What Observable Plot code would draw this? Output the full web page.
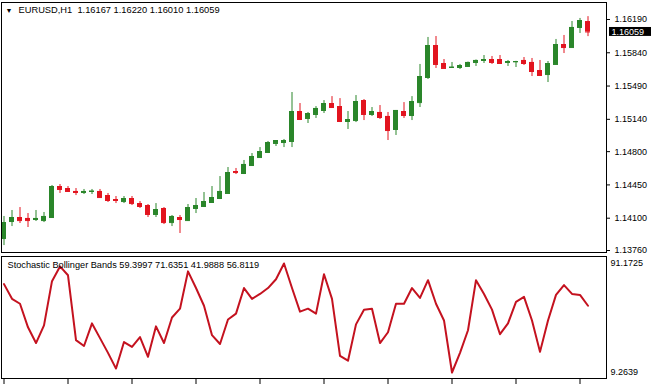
<!DOCTYPE html>
<html>
<head>
<meta charset="utf-8">
<script src="https://cdn.jsdelivr.net/npm/d3@7"></script>
<script src="https://cdn.jsdelivr.net/npm/@observablehq/plot@0.6"></script>
<style>
  html, body { margin: 0; padding: 0; background: #fff; }
  #wrap { position: relative; width: 651px; height: 384px; overflow: hidden; background: #fff; }
  #main, #sub { position: absolute; left: 0; }
  #main { top: 0; }
  #sub { top: 255px; }
</style>
</head>
<body>
<div id="wrap"><div id="main"></div><div id="sub"></div></div>
<script>
// ---------- data ----------
const symbolTitle = "EURUSD,H1";
const titleValues = ["1.16167", "1.16220", "1.16010", "1.16059"];
const indicatorName = "Stochastic Bollinger Bands";
const indicatorValues = ["59.3997", "71.6351", "41.9888", "56.8119"];

const candleOpen = [
  1.13886, 1.14065, 1.14107, 1.14097, 1.14086, 1.14075, 1.14107, 1.14433, 1.14412, 1.14381,
  1.14370, 1.14381, 1.14381, 1.14338, 1.14296, 1.14275, 1.14307, 1.14254, 1.14233, 1.14139,
  1.14202, 1.14054, 1.14107, 1.14075, 1.14202, 1.14223, 1.14265, 1.14307, 1.14360, 1.14591,
  1.14570, 1.14654, 1.14738, 1.14791, 1.14886, 1.14896, 1.14907, 1.15222, 1.15149, 1.15191,
  1.15233, 1.15306, 1.15274, 1.15117, 1.15127, 1.15337, 1.15191, 1.15212, 1.15170, 1.15033,
  1.15222, 1.15180, 1.15316, 1.15580, 1.15916, 1.15727, 1.15685, 1.15685, 1.15696, 1.15738,
  1.15759, 1.15769, 1.15769, 1.15738, 1.15745, 1.15759, 1.15738, 1.15653, 1.15611, 1.15717,
  1.15927, 1.15895, 1.16106, 1.16167
];
const candleHigh = [
  1.14118, 1.14181, 1.14212, 1.14149, 1.14181, 1.14160, 1.14444, 1.14454, 1.14433, 1.14412,
  1.14402, 1.14402, 1.14402, 1.14360, 1.14328, 1.14328, 1.14328, 1.14275, 1.14244, 1.14254,
  1.14212, 1.14128, 1.14128, 1.14244, 1.14307, 1.14370, 1.14433, 1.14538, 1.14633, 1.14623,
  1.14707, 1.14780, 1.14843, 1.14907, 1.14917, 1.14928, 1.15422, 1.15306, 1.15212, 1.15274,
  1.15337, 1.15379, 1.15358, 1.15222, 1.15390, 1.15348, 1.15264, 1.15285, 1.15212, 1.15233,
  1.15316, 1.15379, 1.15717, 1.16001, 1.16011, 1.15769, 1.15738, 1.15717, 1.15742, 1.15764,
  1.15811, 1.15801, 1.15811, 1.15759, 1.15750, 1.15790, 1.15780, 1.15759, 1.15748, 1.15980,
  1.16022, 1.16169, 1.16201, 1.16220
];
const candleLow = [
  1.13812, 1.14012, 1.14044, 1.14002, 1.14065, 1.14054, 1.14097, 1.14360, 1.14370, 1.14338,
  1.14349, 1.14349, 1.14307, 1.14265, 1.14254, 1.14254, 1.14233, 1.14202, 1.14107, 1.14107,
  1.14033, 1.14012, 1.13939, 1.14065, 1.14149, 1.14212, 1.14265, 1.14296, 1.14360, 1.14559,
  1.14559, 1.14644, 1.14738, 1.14780, 1.14854, 1.14843, 1.14843, 1.15127, 1.15096, 1.15149,
  1.15201, 1.15254, 1.15106, 1.15033, 1.15106, 1.15127, 1.15170, 1.15138, 1.14917, 1.14970,
  1.15149, 1.15127, 1.15264, 1.15559, 1.15675, 1.15675, 1.15680, 1.15664, 1.15690, 1.15696,
  1.15727, 1.15717, 1.15717, 1.15696, 1.15685, 1.15706, 1.15590, 1.15590, 1.15527, 1.15717,
  1.15832, 1.15895, 1.16043, 1.16010
];
const candleClose = [
  1.14054, 1.14107, 1.14075, 1.14075, 1.14097, 1.14118, 1.14433, 1.14402, 1.14381, 1.14370,
  1.14381, 1.14384, 1.14317, 1.14286, 1.14286, 1.14307, 1.14254, 1.14223, 1.14139, 1.14191,
  1.14054, 1.14118, 1.14086, 1.14212, 1.14233, 1.14275, 1.14317, 1.14381, 1.14580, 1.14580,
  1.14665, 1.14749, 1.14801, 1.14896, 1.14917, 1.14917, 1.15222, 1.15138, 1.15201, 1.15254,
  1.15306, 1.15264, 1.15117, 1.15138, 1.15327, 1.15191, 1.15222, 1.15159, 1.15022, 1.15233,
  1.15180, 1.15327, 1.15590, 1.15916, 1.15717, 1.15675, 1.15688, 1.15706, 1.15738, 1.15759,
  1.15769, 1.15738, 1.15727, 1.15748, 1.15748, 1.15727, 1.15643, 1.15601, 1.15727, 1.15927,
  1.15895, 1.16106, 1.16179, 1.16059
];
const stochValues = [
  75.67, 64.61, 60.92, 43.21, 31.40, 44.68, 77.89, 88.96, 82.32, 33.61,
  29.19, 46.16, 35.09, 24.02, 12.21, 32.14, 28.45, 35.83, 21.07, 43.94,
  31.40, 50.59, 57.23, 85.27, 72.72, 59.44, 37.30, 30.66, 49.11, 53.54,
  72.72, 64.61, 68.30, 72.72, 79.37, 91.1725, 72.72, 55.01, 57.23, 53.54,
  83.06, 64.61, 21.81, 18.12, 45.42, 56.49, 57.23, 31.40, 39.52, 60.92,
  60.92, 72.72, 65.35, 78.63, 60.92, 48.37, 9.2639, 24.02, 41.00, 78.63,
  68.30, 56.49, 38.04, 46.16, 62.39, 66.08, 48.37, 24.76, 48.37, 67.56,
  74.94, 68.30, 67.56, 59.40
];
const priceTicks = [1.16190, 1.15840, 1.15490, 1.15140, 1.14800, 1.14450, 1.14100, 1.13760];
const stochTicks = [91.1725, 9.2639];
const timeTickEvery = 8;

// ---------- build ----------
const candles = candleOpen.map((o, i) => ({
  i, open: o, high: candleHigh[i], low: candleLow[i], close: candleClose[i],
  up: candleClose[i] >= o
}));
const lastClose = candleClose[candleClose.length - 1];

const GREEN = "#2a862a";
const RED = "#e2141f";
const FONT = "Liberation Sans, Arial, sans-serif";
const colorOf = d => d.up ? GREEN : RED;
const xDomain = [-0.3125, 75.3125];
const halfBody = 0.3125;

const main = Plot.plot({
  width: 651, height: 254,
  marginLeft: 1, marginRight: 45, marginTop: 2, marginBottom: 2,
  style: { fontFamily: FONT, fontSize: "9px", color: "#000", background: "#fff" },
  x: { domain: xDomain, axis: null },
  y: { domain: [1.137391, 1.163688], axis: null },
  marks: [
    Plot.axisY({ anchor: "right", ticks: priceTicks, tickFormat: d => d.toFixed(5),
      tickSize: 3, tickPadding: 5, label: null, fontSize: 9 }),
    Plot.ruleX(candles, { x: "i", y1: "low", y2: "high", stroke: colorOf, strokeWidth: 1 }),
    Plot.rect(candles, { x1: d => d.i - halfBody, x2: d => d.i + halfBody,
      y1: d => Math.min(d.open, d.close), y2: d => Math.max(d.open, d.close), fill: colorOf }),
    Plot.ruleY(candles, { x1: d => d.i - halfBody, x2: d => d.i + halfBody, y: "open", stroke: colorOf }),
    Plot.ruleY(candles, { x1: d => d.i - halfBody, x2: d => d.i + halfBody, y: "close", stroke: colorOf }),
    Plot.frame({ stroke: "#000" }),
    Plot.rect([lastClose], { x1: xDomain[1], x2: xDomain[1] + 6, y1: d => d - 0.00047, y2: d => d + 0.00047,
      fill: "#000", insetLeft: 3 }),
    Plot.text([lastClose], { x: xDomain[1], y: d => d, text: d => d.toFixed(5), dx: 5,
      textAnchor: "start", fill: "#fff", fontSize: 9 }),
    Plot.text(["\u25BC"], { frameAnchor: "top-left", dx: 4, dy: 8, text: d => d, fontSize: 7,
      textAnchor: "start", lineAnchor: "middle", fill: "#000" }),
    Plot.text([symbolTitle + "\u00a0\u00a0" + titleValues.join(" ")], { frameAnchor: "top-left",
      dx: 17, dy: 8, text: d => d, textAnchor: "start", lineAnchor: "middle", fontSize: 9.3, fill: "#000" })
  ]
});
document.getElementById("main").appendChild(main);

const sub = Plot.plot({
  width: 651, height: 129,
  marginLeft: 1, marginRight: 45, marginTop: 1, marginBottom: 6,
  style: { fontFamily: FONT, fontSize: "9px", color: "#000", background: "#fff" },
  x: { domain: xDomain, axis: null },
  y: { domain: [4.7551, 96.4327], axis: null },
  marks: [
    Plot.axisY({ anchor: "right", ticks: stochTicks, tickFormat: d => d.toFixed(4),
      tickSize: 0, tickPadding: 4, label: null, fontSize: 9 }),
    Plot.axisX({ anchor: "bottom", ticks: d3.range(0, stochValues.length, timeTickEvery),
      tickSize: 6, tickFormat: () => "", label: null }),
    Plot.line(stochValues, { x: (d, i) => i, y: d => d, stroke: "#c4121f", strokeWidth: 2 }),
    Plot.frame({ stroke: "#000" }),
    Plot.text([indicatorName + " " + indicatorValues.join(" ")], { frameAnchor: "top-left",
      dx: 6, dy: 9, text: d => d, textAnchor: "start", lineAnchor: "middle", fontSize: 9.2, fill: "#000" })
  ]
});
document.getElementById("sub").appendChild(sub);
</script>
</body>
</html>
